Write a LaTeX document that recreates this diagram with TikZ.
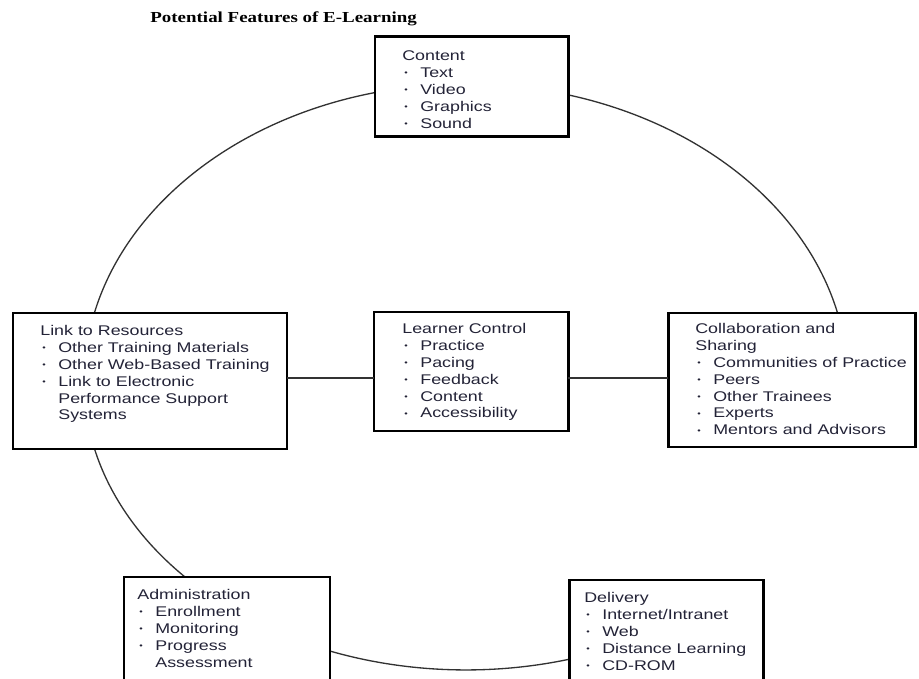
\documentclass[tikz,border=0pt]{standalone}
\usepackage{fontspec}
\setmainfont{Liberation Sans}
\newfontfamily\bodyfont[FakeStretch=1.27]{Liberation Sans}
\newfontfamily\headfont[FakeStretch=1.24]{Liberation Serif}
\usetikzlibrary{fit,shadows}
\definecolor{ink}{RGB}{35,35,55}
\definecolor{ringline}{RGB}{50,50,50}
% bullet item and continuation indent
\newcommand{\bit}{\makebox[0.36cm][l]{\hspace{0.04cm}\raisebox{0.25ex}{\scalebox{0.55}{\textbullet}}}}
\newcommand{\cont}{\hspace*{0.36cm}}
\tikzset{
  box/.style={draw=black, line width=1.7pt, fill=white, inner sep=0pt, outer sep=0pt,
    drop shadow={shadow xshift=0.6pt, shadow yshift=-0.6pt, fill=black!75, opacity=1}},
  txt/.style={anchor=north west, align=left, inner sep=0pt, text=ink,
    font=\bodyfont\fontsize{8}{9.64}\selectfont},
  ring/.style={draw=ringline, line width=0.75pt},
  bar/.style={draw=ringline, line width=0.7pt},
}
\begin{document}
\begin{tikzpicture}[x=0.02cm, y=0.02cm]
\useasboundingbox (0,0) rectangle (919,679);
\clip (0,0) rectangle (919,679);
\fill[white] (0,0) rectangle (919,679);

% the ring behind the boxes: upper and lower halves
\coordinate (ctr) at (466,297);
\draw[ring] (ctr) ++(180:7.64cm and 5.96cm)
  arc[start angle=180, end angle=12, x radius=7.64cm, y radius=5.96cm];
\draw[ring] (ctr) ++(180:7.64cm and 5.76cm)
  arc[start angle=180, end angle=288, x radius=7.64cm, y radius=5.76cm];

% boxes
\node[box, fit={(375,542) (568,642)}] (content) {};
\node[box, fit={(13,230) (287,366)}] (link) {};
\node[box, fit={(374,248) (568,367)}] (learner) {};
\node[box, fit={(668,232) (915,366)}] (collab) {};
\node[box, fit={(124,-21) (330,102)}] (admin) {};
\node[box, fit={(569,-21) (763,99)}] (delivery) {};

% connectors through the middle row
\coordinate (midrow) at (0,301);
\draw[bar] (link.east |- midrow) -- (learner.west |- midrow);
\draw[bar] (learner.east |- midrow) -- (collab.west |- midrow);

% title
\node[anchor=base west, inner sep=0pt, text=black,
      font=\headfont\bfseries\fontsize{8.7}{10}\selectfont] (title) at (150,656)
  {Potential Features of E-Learning};

% box texts
\node[txt] (contenttext) at (402,630.9)
  {\strut Content\\ \bit Text\\ \bit Video\\ \bit Graphics\\ \bit Sound};
\node[txt] (linktext) at (40,355.9)
  {\strut Link to Resources\\ \bit Other Training Materials\\ \bit Other Web-Based Training\\
   \bit Link to Electronic\\ \cont Performance Support\\ \cont Systems};
\node[txt] (learnertext) at (402,357.9)
  {\strut Learner Control\\ \bit Practice\\ \bit Pacing\\ \bit Feedback\\ \bit Content\\ \bit Accessibility};
\node[txt] (collabtext) at (695,357.9)
  {\strut Collaboration and\\ Sharing\\ \bit Communities of Practice\\ \bit Peers\\
   \bit Other Trainees\\ \bit Experts\\ \bit Mentors and Advisors};
\node[txt] (admintext) at (137,91.9)
  {\strut Administration\\ \bit Enrollment\\ \bit Monitoring\\ \bit Progress\\ \cont Assessment};
\node[txt] (deliverytext) at (584,88.9)
  {\strut Delivery\\ \bit Internet/Intranet\\ \bit Web\\ \bit Distance Learning\\ \bit CD-ROM};
\end{tikzpicture}
\end{document}
